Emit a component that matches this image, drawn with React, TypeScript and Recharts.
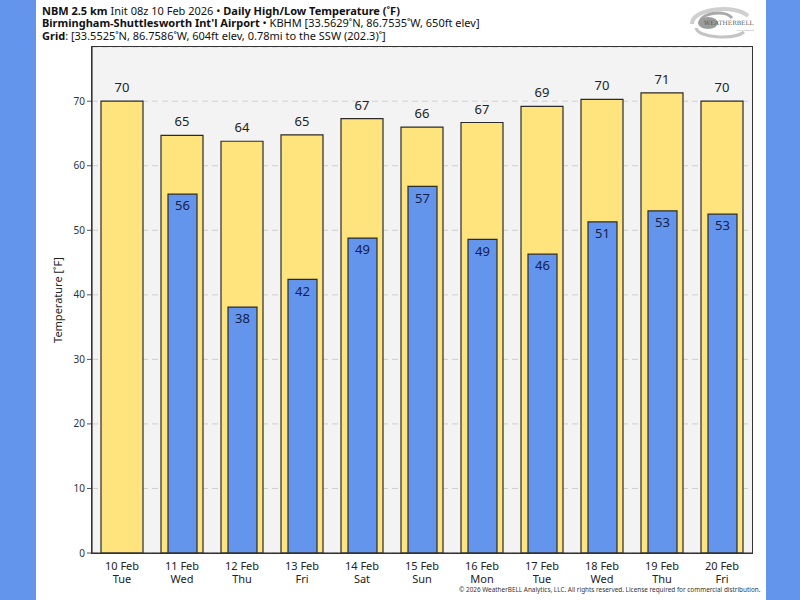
import React from "react";
import {
  Bar,
  BarChart,
  CartesianGrid,
  LabelList,
  XAxis,
  YAxis,
} from "recharts";

const DAYS = ["10 Feb", "11 Feb", "12 Feb", "13 Feb", "14 Feb", "15 Feb", "16 Feb", "17 Feb", "18 Feb", "19 Feb", "20 Feb"];
const WEEKDAYS = ["Tue", "Wed", "Thu", "Fri", "Sat", "Sun", "Mon", "Tue", "Wed", "Thu", "Fri"];
const HIGHS = [70.0, 64.7, 63.8, 64.8, 67.3, 66.0, 66.7, 69.2, 70.3, 71.3, 70.0];
const LOWS: (number | null)[] = [null, 55.6, 38.1, 42.4, 48.8, 56.8, 48.6, 46.3, 51.3, 53.0, 52.5];
const Y_TICKS = [0, 10, 20, 30, 40, 50, 60, 70];

const FONT = "'Noto Sans', 'Open Sans', sans-serif";
const BG_BLUE = "#6495ED";
const HIGH_FILL = "#FFE37C";
const LOW_FILL = "#6495ED";
const OUTLINE = "#2b2b2b";

const data = DAYS.map((d, i) => ({
  day: d,
  weekday: WEEKDAYS[i],
  high: HIGHS[i],
  low: LOWS[i],
}));

const roundLabel = (v: unknown) =>
  v === null || v === undefined ? "" : String(Math.round(Number(v)));

function DayTick(props: any) {
  const { x, y, payload, index } = props;
  return (
    <text x={x} y={y} textAnchor="middle" fill="#222" fontSize={11} fontFamily={FONT}>
      <tspan x={x} dy={9}>{payload.value}</tspan>
      <tspan x={x} dy={13}>{WEEKDAYS[index]}</tspan>
    </text>
  );
}

function Logo() {
  return (
    <svg width={76} height={40} style={{ position: "absolute", left: 684, top: 2 }}>
      <path d="M8 22 C 8 6, 52 2, 64 14" fill="none" stroke="#cfcfcf" strokeWidth={4} />
      <path d="M12 26 C 14 36, 50 38, 60 30" fill="none" stroke="#c4c4c4" strokeWidth={3} />
      <path d="M16 20 C 18 10, 42 8, 48 16" fill="none" stroke="#a8a8a8" strokeWidth={3} />
      <ellipse cx={24} cy={21} rx={10} ry={6} fill="#9c9c9c" />
      <text x={20} y={23} fontSize={6} fill="#555" fontFamily="'DejaVu Serif', serif">
        WEATHERBELL
      </text>
      <text x={52} y={29} fontSize={2.5} fill="#888" fontFamily={FONT}>
        ANALYTICS LLC
      </text>
    </svg>
  );
}

export default function App() {
  return (
    <div
      style={{
        position: "absolute",
        left: 0,
        top: 0,
        width: 800,
        height: 600,
        background: BG_BLUE,
        fontFamily: FONT,
        overflow: "hidden",
      }}
    >
      <div style={{ position: "absolute", left: 36, top: 0, width: 730, height: 600, background: "#fff" }} />
      <div
        style={{
          position: "absolute",
          left: 42,
          top: 5,
          fontSize: 11,
          lineHeight: "12.4px",
          color: "#111",
          whiteSpace: "nowrap",
        }}
      >
        <div>
          <b>NBM 2.5 km</b> Init 08z 10 Feb 2026 • <b>Daily High/Low Temperature (˚F)</b>
        </div>
        <div>
          <b>Birmingham-Shuttlesworth Int'l Airport</b> • KBHM [33.5629˚N, 86.7535˚W, 650ft elev]
        </div>
        <div>
          <b>Grid</b>: [33.5525˚N, 86.7586˚W, 604ft elev, 0.78mi to the SSW (202.3)˚]
        </div>
      </div>
      <Logo />
      <div style={{ position: "absolute", left: 0, top: 0 }}>
        <BarChart
          width={800}
          height={600}
          data={data}
          margin={{ top: 47, right: 48, bottom: 7, left: 52 }}
          barCategoryGap={0}
        >
          <CartesianGrid
            vertical={false}
            fill="#f3f3f3"
            stroke="#cfcfcf"
            strokeDasharray="6 4"
            yAxisId="left"
            xAxisId="bottom"
          />
          <XAxis
            xAxisId="bottom"
            dataKey="day"
            height={40}
            interval={0}
            tickLine={false}
            axisLine={{ stroke: "#333", strokeWidth: 1.2 }}
            tick={<DayTick />}
          />
          <XAxis xAxisId="top" dataKey="day" orientation="top" height={0} hide />
          <YAxis
            yAxisId="left"
            width={40}
            domain={[0, 78.4]}
            ticks={Y_TICKS}
            allowDataOverflow
            axisLine={{ stroke: "#333", strokeWidth: 1.2 }}
            tickLine={{ stroke: "#555" }}
            tickSize={5}
            tick={{ fontSize: 10, fill: "#333", fontFamily: FONT }}
            label={{
              value: "Temperature [˚F]",
              angle: -90,
              position: "insideLeft",
              offset: 2,
              dx: 4,
              style: { fontSize: 11, fill: "#222", fontFamily: FONT, textAnchor: "middle" },
            }}
          />
          <Bar
            dataKey="high"
            xAxisId="bottom"
            yAxisId="left"
            barSize={42}
            fill={HIGH_FILL}
            stroke={OUTLINE}
            strokeWidth={1.2}
            isAnimationActive={false}
          >
            <LabelList
              dataKey="high"
              position="top"
              offset={9}
              formatter={roundLabel}
              style={{ fontSize: 13, fill: "#222", fontFamily: FONT }}
            />
          </Bar>
          <Bar
            dataKey="low"
            xAxisId="top"
            yAxisId="left"
            barSize={29}
            fill={LOW_FILL}
            stroke={OUTLINE}
            strokeWidth={1.2}
            isAnimationActive={false}
          >
            <LabelList
              dataKey="low"
              position="insideTop"
              offset={7}
              formatter={roundLabel}
              style={{ fontSize: 13, fill: "#15204a", fontFamily: FONT }}
            />
          </Bar>
        </BarChart>
      </div>
      {/* plot frame */}
      <div
        style={{
          position: "absolute",
          left: 91,
          top: 46,
          width: 660,
          height: 506,
          border: "1.2px solid #333",
          pointerEvents: "none",
        }}
      />
      <div
        style={{
          position: "absolute",
          left: 459,
          top: 585,
          fontSize: 6.4,
          color: "#333",
          whiteSpace: "nowrap",
        }}
      >
        © 2026 WeatherBELL Analytics, LLC. All rights reserved. License required for commercial distribution.
      </div>
    </div>
  );
}
